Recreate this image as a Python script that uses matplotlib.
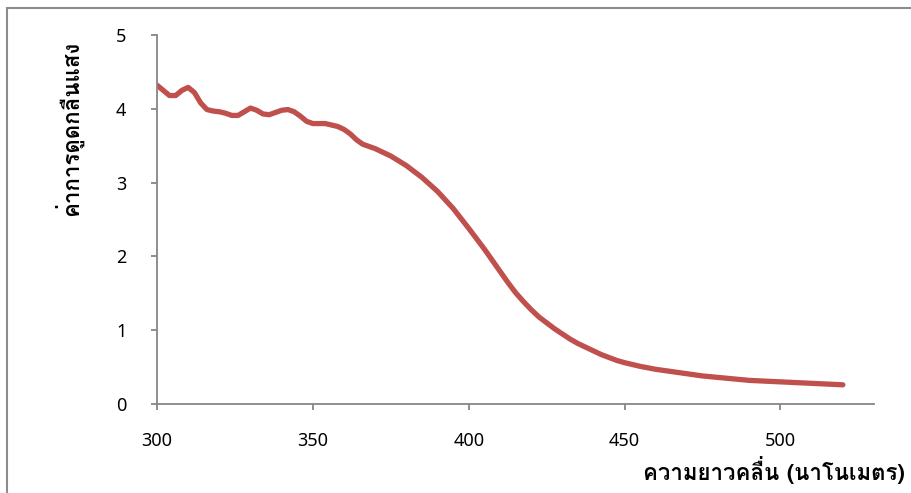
import matplotlib
matplotlib.use("Agg")
import matplotlib.pyplot as plt
from matplotlib import font_manager
from matplotlib.ft2font import FT2Font
from matplotlib.patches import Rectangle

# ความยาวคลื่น (nm) และค่าการดูดกลืนแสง
wavelength = [300, 302, 304, 306, 308, 310, 312, 314, 316, 318, 320, 322,
              324, 326, 328, 330, 332, 334, 336, 338, 340, 342, 344, 346,
              348, 350, 352, 354, 356, 358, 360, 362, 364, 366, 368, 370,
              375, 380, 385, 390, 395, 400, 402.5, 405, 407.5, 410, 412.5,
              415, 417.5, 420, 422.5, 425, 427.5, 430, 432.5, 435, 437.5,
              440, 442.5, 445, 447.5, 450, 455, 460, 465, 470, 475, 480,
              485, 490, 495, 500, 505, 510, 515, 520]
absorbance = [4.32, 4.25, 4.18, 4.18, 4.25, 4.29, 4.22, 4.08, 3.99, 3.97, 3.96, 3.94,
              3.91, 3.91, 3.96, 4.01, 3.98, 3.93, 3.92, 3.95, 3.98, 3.99, 3.96, 3.90,
              3.83, 3.80, 3.80, 3.80, 3.78, 3.76, 3.72, 3.66, 3.58, 3.52, 3.49, 3.46,
              3.36, 3.23, 3.07, 2.88, 2.65, 2.38, 2.24, 2.10, 1.95, 1.80, 1.65,
              1.51, 1.39, 1.28, 1.18, 1.10, 1.02, 0.95, 0.88, 0.82, 0.77,
              0.72, 0.67, 0.63, 0.59, 0.56, 0.51, 0.47, 0.44, 0.41, 0.38, 0.36,
              0.34, 0.32, 0.31, 0.30, 0.29, 0.28, 0.27, 0.26]

x_ticks = [300, 350, 400, 450, 500]
y_ticks = [0, 1, 2, 3, 4, 5]
x_title = "ความยาวคลื่น (นาโนเมตร)"
y_title = "ค่าการดูดกลืนแสง"


# หาฟอนต์ที่มีอักษรไทย
def thai_font():
    for path in sorted(font_manager.findSystemFonts()):
        try:
            if 0x0E04 in FT2Font(path).get_charmap():
                return font_manager.FontProperties(fname=path).get_name()
        except Exception:
            pass
    return None


th = thai_font()
families = ([th] if th else []) + ["DejaVu Sans"]
plt.rcParams["font.family"] = families

fig = plt.figure(figsize=(9.12, 4.93), dpi=100)
ax = fig.add_axes([157/912, 89/493, (874-157)/912, (404-35)/493])

ax.plot(wavelength, absorbance, color="#C0504D", linewidth=3.8,
        solid_capstyle="round", solid_joinstyle="round")

ax.set_xlim(300, 530)
ax.set_ylim(0, 5)
ax.set_xticks(x_ticks)
ax.set_yticks(y_ticks)

for s in ["top", "right"]:
    ax.spines[s].set_visible(False)
for s in ["left", "bottom"]:
    ax.spines[s].set_color("#868686")
    ax.spines[s].set_linewidth(1.3)

ax.tick_params(axis="x", direction="out", length=4, width=1.3, color="#868686",
               pad=16, labelsize=13, labelcolor="#000000")
ax.tick_params(axis="y", direction="out", length=4, width=1.3, color="#868686",
               pad=18, labelsize=13, labelcolor="#000000")
for lab in ax.get_xticklabels() + ax.get_yticklabels():
    lab.set_fontfamily(["Noto Sans", "DejaVu Sans"])

fig.text(905/912, 1 - 470/493, x_title, ha="right", va="center",
         fontsize=16, fontweight="bold")
fig.text(68/912, 1 - 128/493, y_title, ha="center", va="center",
         rotation=90, fontsize=16, fontweight="bold")

# กรอบรอบพื้นที่แผนภูมิ
fig.patches.append(Rectangle((7/912, -0.2), 1.2, 1.2 - 8/493,
                             transform=fig.transFigure, fill=False,
                             edgecolor="#8C8C8C", linewidth=1.5))

fig.savefig("out.png", dpi=100)
